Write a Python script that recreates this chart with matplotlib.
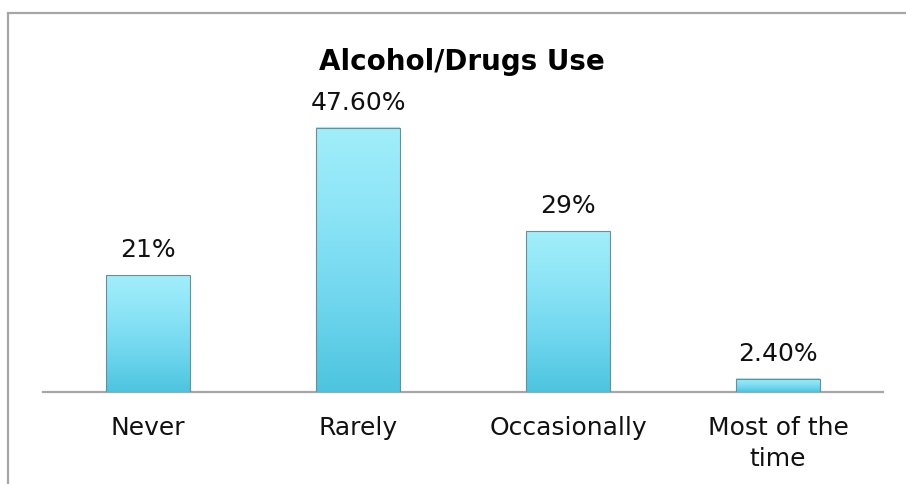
import matplotlib
matplotlib.use("Agg")
import matplotlib.pyplot as plt
import numpy as np
from matplotlib.colors import LinearSegmentedColormap
from matplotlib.patches import Rectangle

categories = ["Never", "Rarely", "Occasionally", "Most of the\ntime"]
values = [21.0, 47.6, 29.0, 2.4]
value_labels = ["21%", "47.60%", "29%", "2.40%"]
title = "Alcohol/Drugs Use"

plt.rcParams['font.family'] = ['DejaVu Sans']

fig = plt.figure(figsize=(9.06, 4.84), dpi=100)
ax = fig.add_axes([43 / 906, 92 / 484, 840 / 906, 277.5 / 484])

# outer chart frame (only top and left are visible in the crop)
fig.patches.append(Rectangle((8 / 906, -0.1), 1.2, 0.1 + (484 - 13) / 484,
                             transform=fig.transFigure, fill=False,
                             edgecolor='#a6a6a6', linewidth=1.6))

cmap = LinearSegmentedColormap.from_list(
    "bar", ["#4dc4df", "#6fd6ee", "#8be4f6", "#a2eefb"])
grad = np.linspace(0, 1, 256).reshape(-1, 1)

x = np.arange(len(categories))
bars = ax.bar(x, values, width=0.4, facecolor='none',
              edgecolor='#6b8e96', linewidth=0.8, zorder=3)
for b in bars:
    x0, w, h = b.get_x(), b.get_width(), b.get_height()
    ax.imshow(grad, extent=[x0, x0 + w, 0, h], origin='lower',
              cmap=cmap, aspect='auto', zorder=2, interpolation='bilinear')

for b, lab in zip(bars, value_labels):
    ax.annotate(lab, (b.get_x() + b.get_width() / 2, b.get_height()),
                xytext=(0, 13), textcoords='offset points',
                ha='center', va='baseline', fontsize=18, color='#111111')

ax.set_xlim(-0.5, len(categories) - 0.5)
ax.set_ylim(0, 50)
ax.set_xticks(x)
ax.set_xticklabels(categories, fontsize=18, color='#111111', linespacing=1.4)
ax.tick_params(axis='x', length=0, pad=17)
ax.set_yticks([])
for s in ['top', 'right', 'left']:
    ax.spines[s].set_visible(False)
ax.spines['bottom'].set_color('#a6a6a6')
ax.spines['bottom'].set_linewidth(1.6)
ax.spines['bottom'].set_zorder(1)

fig.text(462 / 906, (484 - 62) / 484, title, ha='center', va='center',
         fontsize=20, fontweight='bold', color='black')

fig.savefig("out.png", dpi=100)
